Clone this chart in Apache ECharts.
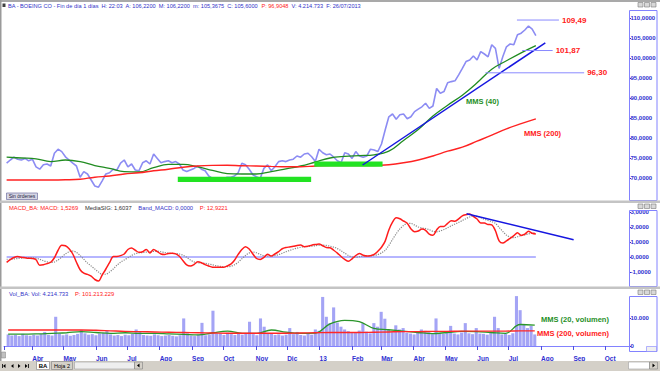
<!DOCTYPE html>
<html><head><meta charset="utf-8">
<script src="https://cdn.jsdelivr.net/npm/echarts@6/dist/echarts.min.js"></script>
<style>html,body{margin:0;padding:0;background:#fff;overflow:hidden}#c{width:660px;height:371px}</style>
</head><body><div id="c"></div>
<script>
// ---------- DATA ----------
const monthLabels = ['Ene','Feb','Mar','Abr','May','Jun','Jul','Ago','Sep','Oct','Nov','Dic'];
const seriesStart = '2012-03-09';      // first sample (half-week samples)
const stepDays = 3.5;                  // one sample every half week
const axisStart = '2012-03-06 12:00';
const axisEnd = '2013-10-22 17:00';

// BA close (half-week samples)
const price = [
73.7,74.5,75.2,74.7,74.5,74.9,74.3,74.7,72.8,72.2,
73.3,73.5,73.0,76.2,77.2,76.6,75.3,74.5,73.7,73.0,
70.2,71.6,71.0,69.5,68.0,67.7,69.3,71.0,71.3,72.2,
72.0,73.7,74.5,72.8,73.5,72.0,71.8,73.8,74.3,73.5,
76.0,74.9,73.8,74.1,74.3,73.8,74.1,73.5,72.0,71.6,
72.0,72.4,73.0,72.2,71.8,70.5,69.9,69.8,69.7,69.8,
70.2,70.2,70.5,71.3,73.7,73.3,72.2,70.8,70.3,69.9,
72.4,73.3,71.8,72.8,74.1,74.3,74.1,74.5,74.7,75.5,
75.2,76.0,76.2,75.3,74.1,77.2,76.3,75.8,76.0,
75.2,74.3,73.8,76.3,76.0,74.9,76.6,75.5,75.2,75.5,
77.2,77.0,76.6,78.5,82.0,85.3,86.0,84.7,85.8,86.0,
84.8,85.3,86.6,87.2,87.8,88.7,87.4,88.0,92.4,91.2,
91.6,93.8,94.1,94.3,95.8,97.4,99.1,99.5,100.5,99.5,
101.6,101.0,100.3,103.3,102.4,97.4,100.3,102.8,103.5,103.3,
105.8,106.2,107.0,108.0,107.2,105.6];

// moving averages, one value every 4 samples (two weeks)
const ma40 = [75.2,75.0,74.8,74.1,74.5,74.1,73.1,72.4,71.6,71.5,72.6,73.4,73.4,72.8,71.9,71.1,71.0,71.0,71.6,72.3,73.0,74.0,75.0,75.4,75.6,75.8,76.7,79.4,82.1,85.5,88.2,90.7,93.8,97.2,99.3,101.3,103.1];
const ma200 = [69.5,69.5,69.5,69.5,69.55,69.7,70.2,70.5,71.0,71.3,71.8,72.2,72.7,73.0,73.15,73.2,73.05,73.0,72.9,72.8,72.8,73.0,73.1,73.1,73.1,73.1,73.3,73.8,74.5,75.5,76.7,77.7,79.2,80.7,82.3,83.6,84.8];

// MACD and signal (half-week samples)
const macd = [
-0.36,-0.17,-0.03,0.03,-0.02,-0.05,-0.08,-0.1,-0.18,-0.55,
-0.52,-0.44,-0.35,-0.05,0.45,0.78,0.75,0.55,0.2,-0.35,
-0.85,-1.08,-1.16,-1.28,-1.5,-1.6,-1.2,-0.8,-0.38,0.03,
0.04,0.09,0.2,0.5,0.6,0.45,0.31,0.35,0.5,0.27,
0.5,0.36,0.2,0.17,0.24,0.25,0.21,0.05,-0.25,-0.53,
-0.6,-0.5,-0.32,-0.38,-0.51,-0.6,-0.68,-0.69,-0.69,-0.69,
-0.6,-0.48,-0.22,0.17,0.5,0.69,0.53,0.2,-0.1,-0.16,
-0.02,0.19,0.06,0.2,0.36,0.55,0.63,0.67,0.71,0.77,
0.8,0.69,0.72,0.79,0.83,0.86,0.75,0.63,0.62,0.45,
0.26,0.03,-0.16,-0.29,-0.12,0.1,0.23,0.12,0.06,0.09,
0.17,0.38,0.65,1.06,1.8,2.32,2.62,2.55,2.4,2.25,
1.88,1.69,1.73,1.86,1.78,1.52,1.45,1.8,2.04,2.04,
2.24,2.41,2.38,2.54,2.74,2.82,2.87,2.71,2.53,2.27,
2.26,2.17,2.14,1.75,1.08,0.93,1.07,1.24,1.42,1.62,
1.44,1.52,1.71,1.58,1.53];
const signal = [
-0.15,-0.15,-0.13,-0.1,-0.07,-0.05,-0.05,-0.06,-0.08,-0.15,
-0.25,-0.32,-0.36,-0.33,-0.2,0.0,0.2,0.35,0.4,0.3,
0.1,-0.15,-0.4,-0.6,-0.8,-1.0,-1.15,-1.15,-1.0,-0.8,
-0.55,-0.35,-0.2,-0.05,0.1,0.22,0.28,0.3,0.33,0.35,
0.37,0.38,0.35,0.3,0.26,0.24,0.23,0.2,0.12,-0.02,
-0.2,-0.33,-0.38,-0.4,-0.42,-0.47,-0.52,-0.58,-0.62,-0.65,
-0.65,-0.62,-0.52,-0.35,-0.12,0.1,0.27,0.33,0.28,0.17,
0.08,0.06,0.07,0.1,0.16,0.25,0.35,0.44,0.52,0.59,
0.65,0.69,0.7,0.72,0.75,0.78,0.79,0.77,0.72,0.66,
0.56,0.42,0.25,0.1,0.0,-0.02,0.02,0.06,0.07,0.08,
0.1,0.16,0.27,0.45,0.77,1.17,1.55,1.87,2.1,2.23,
2.24,2.13,2.0,1.93,1.9,1.82,1.71,1.68,1.74,1.83,
1.95,2.08,2.2,2.31,2.43,2.56,2.67,2.73,2.71,2.62,
2.52,2.43,2.36,2.24,1.98,1.7,1.46,1.32,1.29,1.35,
1.43,1.47,1.54,1.58,1.6];
const bandMacd = [0, 0];

// volume in thousands (half-week samples)
const volume = [
4.2,3.8,4.0,3.6,4.4,3.9,3.7,4.1,3.8,4.3,
5.1,4.0,3.8,10.6,4.5,3.9,4.2,3.7,4.0,4.4,
5.8,4.6,4.1,4.3,3.9,4.5,4.8,5.5,4.2,3.8,
4.0,3.6,4.1,3.9,4.4,6.0,5.2,4.0,3.8,3.7,
4.2,3.9,3.6,3.8,4.0,3.7,3.5,3.9,10.0,4.6,
3.8,3.6,4.1,8.4,3.9,4.2,12.8,4.6,4.5,4.0,
4.8,4.3,4.0,4.4,4.1,4.6,8.8,4.3,3.9,10.0,
7.0,4.4,4.4,4.0,4.2,3.8,4.1,6.5,4.3,5.1,
4.0,3.8,4.4,4.1,6.0,5.5,17.8,10.6,8.3,14.0,
8.5,7.0,6.0,5.4,4.8,5.0,5.6,8.3,5.2,4.6,
8.3,7.0,12.4,9.9,6.0,5.0,7.5,6.0,6.5,4.8,
4.5,4.2,4.8,6.0,5.5,5.0,4.3,10.0,4.6,4.4,
4.8,7.3,4.5,4.2,4.9,8.3,4.6,4.3,6.5,4.5,
4.4,4.1,4.7,10.6,6.5,4.2,4.4,4.0,4.6,18.1,
13.0,8.0,6.5,7.3,4.2];
const volMa20 = [4.3,4.3,4.4,4.6,4.8,5.2,4.9,4.6,4.8,4.6,4.6,4.4,4.2,4.0,4.8,5.4,4.6,4.6,5.8,5.0,4.6,4.7,8.0,9.3,8.8,6.4,5.9,5.4,4.9,4.5,4.9,5.3,5.2,4.9,4.6,7.8,7.6];
const volMa200 = [5.8,5.8,5.8,5.8,5.8,5.8,5.7,5.5,5.3,5.2,5.1,5.0,4.9,4.8,4.7,4.6,4.6,4.6,4.6,4.6,4.7,4.8,4.9,4.9,4.9,5.0,5.1,5.2,5.2,5.3,5.3,5.4,5.4,5.4,5.4,5.5,5.5];

// annotations (date, value)
const trendPrice = [['2013-02-11', 73.25], ['2013-08-04', 103.8]];
const trendMacd = [['2013-05-21', 2.89], ['2013-08-31', 1.15]];
const levels = [
  {label: '109,49', value: 109.49, from: '2013-07-08', to: '2013-08-17'},
  {label: '101,87', value: 101.87, from: '2013-07-13', to: '2013-08-11'},
  {label: '96,30',  value: 96.30,  from: '2013-06-08', to: '2013-09-10'}
];
const greenZones = [
  ['2012-08-19', '2012-12-24', 69.0, 70.3],
  ['2012-12-27', '2013-03-02', 72.8, 74.1]
];

// ---------- BUILD ----------
const DAY = 86400000;
function ts(s) {
  const m = s.match(/(\d+)-(\d+)-(\d+)(?:\s+(\d+):(\d+))?/);
  return new Date(+m[1], +m[2] - 1, +m[3], m[4] ? +m[4] : 0, m[5] ? +m[5] : 0).getTime();
}
const t0 = ts(seriesStart);
const dateAt = i => t0 + i * stepDays * DAY;
const pairs = arr => arr.map((v, i) => [dateAt(i), v]);
const pairs4 = arr => arr.map((v, k) => [dateAt(k * 4), v]);
const lastIdx = price.length - 1;

const FONT = '"Liberation Sans", Arial, sans-serif';
const BLUE_TXT = '#2f2fd0';
const xMin = ts(axisStart), xMax = ts(axisEnd);

function xAxisHidden(g) {
  return {type: 'time', gridIndex: g, min: xMin, max: xMax, show: false,
    minInterval: 28 * DAY, maxInterval: 31 * DAY, splitNumber: 20, splitLine: {show: false}};
}
function yAxisBase(g, min, max, interval, fmt, showMin) {
  return {type: 'value', gridIndex: g, position: 'right', min, max, interval, scale: false,
    axisLine: {show: false}, splitLine: {show: false},
    axisTick: {show: true, length: 2, lineStyle: {color: BLUE_TXT}},
    axisLabel: {margin: 1.5, color: BLUE_TXT, fontSize: 6, fontWeight: 'bold', fontFamily: FONT,
      showMinLabel: showMin, showMaxLabel: false, formatter: fmt}};
}
const fmt4 = v => v.toFixed(4).replace('.', ',');
const fmtVol = v => v === 0 ? '0' : (v * 1000).toLocaleString('de-DE');

const series = [];
// price panel
series.push({type: 'line', name: 'BA', xAxisIndex: 0, yAxisIndex: 0, data: pairs(price), showSymbol: false,
  lineStyle: {color: '#8c8cf3', width: 1.6}, z: 2});
series.push({type: 'custom', name: 'zonas', xAxisIndex: 0, yAxisIndex: 0, z: 4,
  data: greenZones.map(z => [ts(z[0]), ts(z[1]), z[2], z[3]]),
  encode: {x: [0, 1], y: [2, 3]},
  renderItem: function (params, api) {
    const a = api.coord([api.value(0), api.value(3)]);
    const b = api.coord([api.value(1), api.value(2)]);
    return {type: 'rect', shape: {x: a[0], y: a[1], width: b[0] - a[0], height: b[1] - a[1]},
      style: {fill: '#22e322'}};
  }});
series.push({type: 'line', name: 'MMS (40)', xAxisIndex: 0, yAxisIndex: 0, data: pairs4(ma40), showSymbol: false,
  smooth: 0.4, lineStyle: {color: '#218c21', width: 1.3}, z: 3});
series.push({type: 'line', name: 'MMS (200)', xAxisIndex: 0, yAxisIndex: 0, data: pairs4(ma200), showSymbol: false,
  smooth: 0.4, lineStyle: {color: '#ff2222', width: 1.4}, z: 3});
series.push({type: 'line', name: 'tendencia', xAxisIndex: 0, yAxisIndex: 0, data: trendPrice.map(p => [ts(p[0]), p[1]]),
  showSymbol: false, lineStyle: {color: '#1616e0', width: 1.5}, z: 5});
levels.forEach(l => {
  series.push({type: 'line', name: l.label, xAxisIndex: 0, yAxisIndex: 0,
    data: [[ts(l.from), l.value], [ts(l.to), l.value]], showSymbol: false,
    lineStyle: {color: '#8a8aff', width: 1}, z: 5,
    endLabel: {show: true, formatter: l.label, color: '#ff2020', fontWeight: 'bold', fontSize: 8, fontFamily: FONT, distance: 3}});
});
// MACD panel
series.push({type: 'line', name: 'Band_MACD', xAxisIndex: 1, yAxisIndex: 1,
  data: [[dateAt(0), bandMacd[0]], [dateAt(lastIdx), bandMacd[1]]], showSymbol: false,
  lineStyle: {color: '#6c6cff', width: 1}, z: 2});
series.push({type: 'line', name: 'MediaSIG', xAxisIndex: 1, yAxisIndex: 1, data: pairs(signal), showSymbol: false,
  smooth: 0.3, lineStyle: {color: '#8a8a8a', width: 1.2, type: 'dotted'}, z: 3});
series.push({type: 'line', name: 'MACD', xAxisIndex: 1, yAxisIndex: 1, data: pairs(macd), showSymbol: false,
  smooth: 0.3, lineStyle: {color: '#ff1c1c', width: 1.5}, z: 4});
series.push({type: 'line', name: 'tendencia MACD', xAxisIndex: 1, yAxisIndex: 1, data: trendMacd.map(p => [ts(p[0]), p[1]]),
  showSymbol: false, lineStyle: {color: '#1616e0', width: 1.5}, z: 5});
// volume panel
series.push({type: 'bar', name: 'Vol', xAxisIndex: 2, yAxisIndex: 2, data: pairs(volume), barWidth: 3.1,
  itemStyle: {color: '#a4a4f5'}, z: 2});
series.push({type: 'line', name: 'MMS (20, volumen)', xAxisIndex: 2, yAxisIndex: 2, data: pairs4(volMa20), showSymbol: false,
  smooth: 0.4, lineStyle: {color: '#2a962a', width: 1.3}, z: 3});
series.push({type: 'line', name: 'MMS (200, volumen)', xAxisIndex: 2, yAxisIndex: 2, data: pairs4(volMa200), showSymbol: false,
  smooth: 0.4, lineStyle: {color: '#ff2626', width: 1.4}, z: 3});

// chrome / annotations
function btns(y) {
  return [0, 1, 2].map(k => ({type: 'rect', shape: {x: 638 + k * 6.5, y: y, width: 5, height: 4.5},
    style: {fill: '#d8d8d8', stroke: '#7a7a7a', lineWidth: 0.6}, z: 50}));
}
function tri(x, y, dir) {
  const pts = dir > 0 ? [[x, y - 2], [x, y + 2], [x + 2.5, y]] : [[x + 2.5, y - 2], [x + 2.5, y + 2], [x, y]];
  return {type: 'polygon', shape: {points: pts}, style: {fill: '#000'}, z: 51};
}
const graphic = [
  {type: 'rect', shape: {x: 0, y: 0, width: 660, height: 2}, style: {fill: '#a9a9a9'}, z: 50},
  {type: 'rect', shape: {x: 0, y: 0, width: 1.5, height: 362}, style: {fill: '#9a9a9a'}, z: 50},
  {type: 'rect', shape: {x: 2.5, y: 3.5, width: 3, height: 3.5}, style: {fill: '#404040'}, z: 50},
  {type: 'text', x: 8, y: 6, z: 50, style: {
    text: '{b|BA - BOEING CO - Fin de día 1 días  H: 22:03  A: 106,2200  M: 106,2200  m: 105,3675  C: 105,6000 }{r| P: 96,9048 }{b| V: 4.214.733  F: 26/07/2013}',
    verticalAlign: 'middle',
    rich: {b: {fill: '#3232c8', fontSize: 5.6, fontFamily: FONT}, r: {fill: '#ff2020', fontSize: 5.6, fontFamily: FONT}}}},
  ...btns(2.5),
  // separators
  {type: 'rect', shape: {x: 0, y: 200.5, width: 660, height: 2.5}, style: {fill: '#c4c4c4'}, z: 50},
  {type: 'rect', shape: {x: 0, y: 286.5, width: 660, height: 2.5}, style: {fill: '#c4c4c4'}, z: 50},
  ...btns(204),
  ...btns(290),
  // axis boxes
  {type: 'rect', shape: {x: 629.5, y: 10.5, width: 27.5, height: 190}, style: {fill: 'none', stroke: '#8282ff', lineWidth: 1}, z: 40},
  {type: 'rect', shape: {x: 629.5, y: 210.5, width: 27.5, height: 76}, style: {fill: 'none', stroke: '#8282ff', lineWidth: 1}, z: 40},
  {type: 'rect', shape: {x: 629.5, y: 296.5, width: 27.5, height: 55}, style: {fill: 'none', stroke: '#8282ff', lineWidth: 1}, z: 40},
  {type: 'rect', shape: {x: 646.5, y: 346.5, width: 10, height: 5}, style: {fill: '#f0f0f0', stroke: '#8282ff', lineWidth: 0.6}, z: 41},
  // panel headers
  {type: 'text', x: 9, y: 207.5, z: 50, style: {
    text: '{r|MACD_BA: MACD: 1,5269}  {g|MediaSIG: 1,6037}  {b|Band_MACD: 0,0000}  {r|P: 12,9221}',
    verticalAlign: 'middle',
    rich: {r: {fill: '#ff2020', fontSize: 5.8, fontFamily: FONT}, g: {fill: '#303030', fontSize: 5.8, fontFamily: FONT},
      b: {fill: '#3232c8', fontSize: 5.8, fontFamily: FONT}}}},
  {type: 'text', x: 9, y: 293.5, z: 50, style: {
    text: '{b|Vol_BA: Vol: 4.214.733}  {r|P: 101.213.229}', verticalAlign: 'middle',
    rich: {r: {fill: '#ff2020', fontSize: 5.8, fontFamily: FONT}, b: {fill: '#3232c8', fontSize: 5.8, fontFamily: FONT}}}},
  // annotation texts
  {type: 'text', x: 466, y: 101.5, z: 60, style: {text: 'MMS (40)', fill: '#1f8f1f', fontSize: 7.5, fontWeight: 'bold', fontFamily: FONT, verticalAlign: 'middle'}},
  {type: 'text', x: 524, y: 133.5, z: 60, style: {text: 'MMS (200)', fill: '#ff2020', fontSize: 7.5, fontWeight: 'bold', fontFamily: FONT, verticalAlign: 'middle'}},
  {type: 'text', x: 541, y: 319, z: 60, style: {text: 'MMS (20, volumen)', fill: '#1f8f1f', fontSize: 7.5, fontWeight: 'bold', fontFamily: FONT, verticalAlign: 'middle'}},
  {type: 'text', x: 537, y: 333.5, z: 60, style: {text: 'MMS (200, volumen)', fill: '#ff2020', fontSize: 7.5, fontWeight: 'bold', fontFamily: FONT, verticalAlign: 'middle'}},
  // "Sin órdenes" button
  {type: 'rect', shape: {x: 6.5, y: 193, width: 31, height: 6.5}, style: {fill: '#d6d6e4', stroke: '#7070a0', lineWidth: 0.7}, z: 60},
  {type: 'text', x: 22, y: 196.3, z: 61, style: {text: 'Sin órdenes', fill: '#202040', fontSize: 5, fontFamily: FONT, align: 'center', verticalAlign: 'middle'}},
  // bottom tab bar
  {type: 'rect', shape: {x: 0, y: 361, width: 660, height: 10}, style: {fill: '#d4d0c8'}, z: 50},
  {type: 'rect', shape: {x: 1.5, y: 352, width: 4, height: 6}, style: {fill: '#c0c0c0', stroke: '#808080', lineWidth: 0.5}, z: 50},
  {type: 'rect', shape: {x: 2, y: 364, width: 0.8, height: 4}, style: {fill: '#000'}, z: 51},
  tri(3, 366, -1), tri(11, 366, -1), tri(18, 366, 1), tri(25, 366, 1),
  {type: 'rect', shape: {x: 28, y: 364, width: 0.8, height: 4}, style: {fill: '#000'}, z: 51},
  {type: 'rect', shape: {x: 36.5, y: 361.5, width: 13, height: 8}, style: {fill: '#ffffff', stroke: '#808080', lineWidth: 0.6}, z: 51},
  {type: 'text', x: 43, y: 365.5, z: 52, style: {text: 'BA', fill: '#000', fontSize: 6, fontWeight: 'bold', fontFamily: FONT, align: 'center', verticalAlign: 'middle'}},
  {type: 'rect', shape: {x: 51.5, y: 361.5, width: 21, height: 8}, style: {fill: '#d4d0c8', stroke: '#808080', lineWidth: 0.6}, z: 51},
  {type: 'text', x: 62, y: 365.5, z: 52, style: {text: 'Hoja 2', fill: '#000', fontSize: 5.5, fontFamily: FONT, align: 'center', verticalAlign: 'middle'}},
  {type: 'rect', shape: {x: 74.5, y: 362, width: 60, height: 7}, style: {fill: '#eeeeee', stroke: '#a0a0a0', lineWidth: 0.6}, z: 51},
  {type: 'rect', shape: {x: 134.5, y: 362, width: 8, height: 7}, style: {fill: '#d4d0c8', stroke: '#808080', lineWidth: 0.6}, z: 51},
  tri(137, 365.5, -1),
  {type: 'rect', shape: {x: 628.5, y: 362, width: 21, height: 7}, style: {fill: '#ffffff', stroke: '#a0a0a0', lineWidth: 0.6}, z: 51},
  {type: 'rect', shape: {x: 649.5, y: 362, width: 8, height: 7}, style: {fill: '#d4d0c8', stroke: '#808080', lineWidth: 0.6}, z: 51},
  tri(652.5, 365.5, 1)
];

const option = {
  animation: false,
  backgroundColor: '#ffffff',
  textStyle: {fontFamily: FONT},
  grid: [
    {left: 4, right: 31, top: 8, height: 190},
    {left: 4, right: 31, top: 206, height: 81},
    {left: 4, right: 31, top: 295, height: 51}
  ],
  xAxis: [
    xAxisHidden(0),
    xAxisHidden(1),
    {type: 'time', gridIndex: 2, min: xMin, max: xMax, offset: 5,
      minInterval: 28 * DAY, maxInterval: 31 * DAY, splitNumber: 20,
      splitLine: {show: false},
      axisLine: {show: true, lineStyle: {color: '#8282ff', width: 1}},
      axisTick: {show: true, length: 4, lineStyle: {color: '#5050e0'}},
      axisLabel: {show: true, margin: 4, color: BLUE_TXT, fontSize: 6.5, fontWeight: 'bold', fontFamily: FONT,
        align: 'left', hideOverlap: false, showMinLabel: true, showMaxLabel: true,
        formatter: function (v) {
          const d = new Date(v);
          if (d.getDate() !== 1) return '';
          return d.getMonth() === 0 ? String(d.getFullYear()).slice(2) : monthLabels[d.getMonth()];
        }}}
  ],
  yAxis: [
    yAxisBase(0, 65, 112.5, 5, fmt4, false),
    yAxisBase(1, -2, 3.4, 1, fmt4, false),
    yAxisBase(2, 0, 18.5, 10, fmtVol, true)
  ],
  graphic: graphic,
  series: series
};

const chart = echarts.init(document.getElementById('c'), null, {renderer: 'svg'});
chart.setOption(option);
</script>
</body></html>
